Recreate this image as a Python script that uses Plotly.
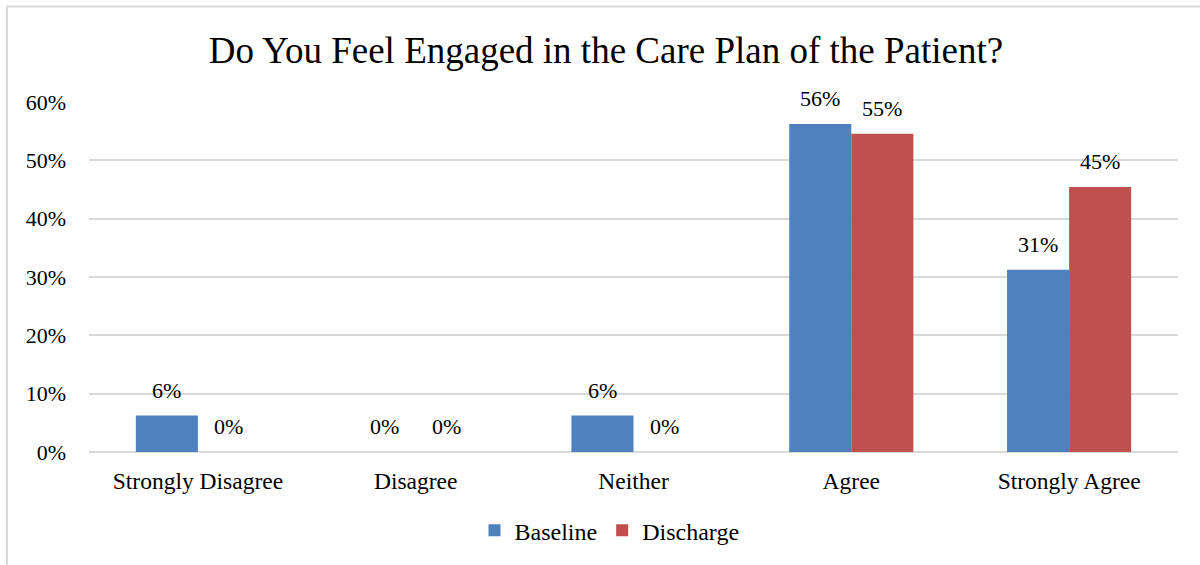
import plotly.graph_objects as go

# Survey responses (share of respondents)
categories = ["Strongly Disagree", "Disagree", "Neither", "Agree", "Strongly Agree"]
baseline = [0.0625, 0.0, 0.0625, 0.5625, 0.3125]
discharge = [0.0, 0.0, 0.0, 0.5455, 0.4545]
series_names = ["Baseline", "Discharge"]
y_ticks = [0, 0.1, 0.2, 0.3, 0.4, 0.5, 0.6]

BLUE = "#4F81BD"
RED = "#C0504D"
GRID = "#D9D9D9"
SERIF = "Liberation Serif, Times New Roman, serif"

fig = go.Figure()
fig.add_trace(go.Bar(name=series_names[0], x=categories, y=baseline,
                     marker=dict(color=BLUE, line=dict(width=0))))
fig.add_trace(go.Bar(name=series_names[1], x=categories, y=discharge,
                     marker=dict(color=RED, line=dict(width=0))))

# Value labels above each bar
annotations = []
for vals, shift in ((baseline, -31), (discharge, 31)):
    for cat, v in zip(categories, vals):
        annotations.append(dict(
            x=cat, y=v, xref="x", yref="y", text=f"{v:.0%}",
            showarrow=False, xshift=shift, yanchor="bottom", yshift=11,
            font=dict(family=SERIF, size=22, color="black")))

# Light frame around the chart area
W, H = 1200, 565
L, R, T, B = 89, 22, 102, 111
pw, ph = W - L - R, H - T - B
def px_x(x):
    return (x - L) / pw
def px_y(y):
    return (H - B - y) / ph

fig.add_shape(type="rect", xref="paper", yref="paper",
              x0=px_x(7), x1=px_x(1210), y0=px_y(580), y1=px_y(6),
              line=dict(color=GRID, width=2), fillcolor="rgba(0,0,0,0)", layer="below")

fig.update_layout(
    width=W, height=H,
    margin=dict(l=L, r=R, t=T, b=B),
    paper_bgcolor="white", plot_bgcolor="white",
    barmode="group", bargap=0.43, bargroupgap=0,
    title=dict(text="Do You Feel Engaged in the Care Plan of the Patient?",
               x=0.505, xanchor="center", y=1 - 50 / H, yanchor="middle",
               font=dict(family=SERIF, size=37, color="black")),
    xaxis=dict(showgrid=False, showline=False, ticks="", ticklabelstandoff=12,
               tickfont=dict(family=SERIF, size=23.5, color="black")),
    yaxis=dict(range=[0, 0.6], tickvals=y_ticks, tickformat=".0%",
               showgrid=True, gridcolor=GRID, gridwidth=2,
               zeroline=True, zerolinecolor=GRID, zerolinewidth=2,
               showline=False, ticks="", ticklabelstandoff=22,
               tickfont=dict(family=SERIF, size=22, color="black")),
    legend=dict(orientation="h", x=0.478, xanchor="center",
                y=px_y(533), yanchor="middle",
                font=dict(family=SERIF, size=24, color="black"),
                itemwidth=30, traceorder="normal"),
    annotations=annotations,
)

fig.write_html("out.html")
